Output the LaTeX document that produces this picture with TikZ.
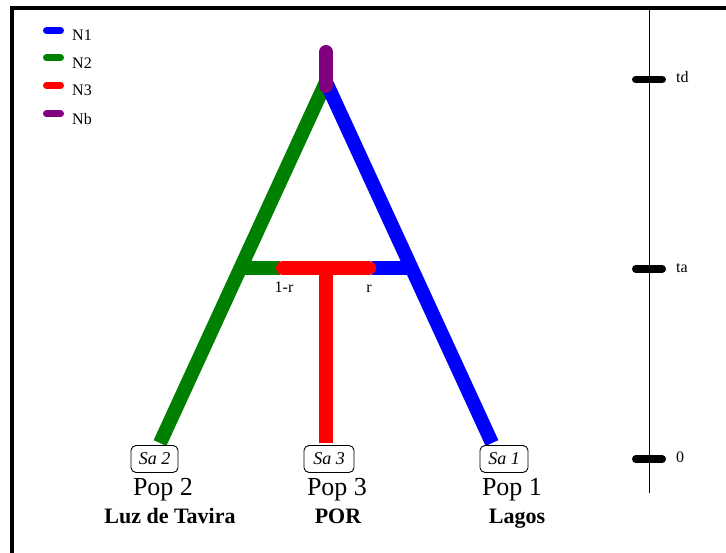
\documentclass[tikz,border=0pt]{standalone}
\usepackage{fontspec}
\setmainfont{Liberation Serif}
\usetikzlibrary{positioning,calc}
\pgfdeclarelayer{background}
\pgfsetlayers{background,main}
\definecolor{nonecolor}{RGB}{0,0,255}
\definecolor{ntwocolor}{RGB}{0,128,0}
\definecolor{nthreecolor}{RGB}{255,0,0}
\definecolor{nbcolor}{RGB}{128,0,128}

\begin{document}
\begin{tikzpicture}[x=1pt, y=-1pt,
  branch/.style={line width=14pt},
  legbar/.style={line width=7pt, line cap=round},
  smalltxt/.style={font=\fontsize{16}{16}\selectfont, inner sep=0pt, anchor=base},
  sample/.style={draw, fill=white, line width=0.9pt, rounded corners=5pt, inner sep=0pt,
    minimum height=27pt, font=\fontsize{18}{18}\selectfont\itshape},
  poplab/.style={font=\fontsize{26}{26}\selectfont, inner sep=0pt, anchor=base},
  sitelab/.style={font=\fontsize{22}{22}\selectfont\bfseries, inner sep=0pt, anchor=base}]
  \useasboundingbox (0,0) rectangle (726,553);

  % frame (left and top only)
  \draw[line width=4pt] (11.5,553) |- (726,8);

  % --- legend ---
  \foreach \y/\c/\t in {30.5/nonecolor/N1, 58/ntwocolor/N2, 85.5/nthreecolor/N3, 114/nbcolor/Nb}{
    \draw[legbar, \c] (46.5,\y) -- (60.5,\y);
    \node[smalltxt, anchor=base west] (leg\t) at (72,\y+10.5) {\t};
  }

  % --- sample boxes ---
  \node[sample, minimum width=47pt] (sa2) at (154.5,459) {Sa 2};
  \node[sample, minimum width=50pt] (sa3) at (329,459) {Sa 3};
  \node[sample, minimum width=48pt] (sa1) at (504,459) {Sa 1};

  % tree points
  \coordinate (top) at (326,52);
  \coordinate (apex) at (326,82);
  \coordinate (jl) at (241,268);
  \coordinate (jr) at (411,268);
  \coordinate (mid) at (326,268);
  \coordinate (gend) at (280,268);
  \coordinate (bend) at (372,268);
  \coordinate (rl) at (283,268);
  \coordinate (rr) at (369,268);

  % --- branches (behind the boxes) ---
  \begin{pgfonlayer}{background}
  \draw[branch, ntwocolor] (apex) -- ([xshift=5.5pt,yshift=2pt]sa2.north);
  \draw[branch, ntwocolor] (jl) -- (gend);
  \draw[branch, nonecolor] (apex) -- ([xshift=-12pt,yshift=2pt]sa1.north);
  \draw[branch, nonecolor] (bend) -- (jr);
  \draw[branch, nthreecolor] (mid) -- ([xshift=-3pt,yshift=2pt]sa3.north);
  \draw[branch, nthreecolor, line cap=round] (rl) -- (rr);
  \draw[branch, nbcolor, line cap=round] (top) -- ([yshift=-4pt]apex);
  \end{pgfonlayer}

  % admixture proportions
  \node[smalltxt] (lmr) at (284,293) {1-r};
  \node[smalltxt] (rlab) at (369,293) {r};

  % population labels
  \node[poplab] (pop2) at (163,495) {Pop 2};
  \node[poplab] (pop3) at (337,495) {Pop 3};
  \node[poplab] (pop1) at (512,495) {Pop 1};
  \node[sitelab] (luz) at (170,523) {Luz de Tavira};
  \node[sitelab] (por) at (338,523) {POR};
  \node[sitelab] (lagos) at (517,523) {Lagos};

  % --- time axis ---
  \coordinate (axtop) at (649,10);
  \coordinate (axbot) at (649,493);
  \draw[line width=1pt] (axtop) -- (axbot);
  \foreach \y/\t in {79.5/td, 269/ta, 459/0}{
    \draw[line width=7.5pt, line cap=round] (635.75,\y) -- (662.25,\y);
    \node[smalltxt, anchor=base west] (tl\t) at (676,\y+3.5) {\t};
  }
\end{tikzpicture}
\end{document}
